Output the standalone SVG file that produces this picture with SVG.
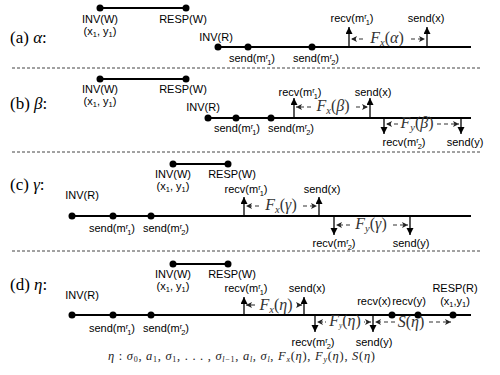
<svg xmlns="http://www.w3.org/2000/svg" width="500" height="375" viewBox="0 0 500 375">
<style>
.bg{fill:#fff}
.tl{stroke:#000;stroke-width:2;fill:none}
.dot{fill:#000}
.sep{stroke:#444;stroke-width:1;stroke-dasharray:3,2}
.ev{stroke:#000;stroke-width:1.3;fill:none}
.dim{stroke:#333;stroke-width:1.1;fill:none;stroke-dasharray:4,3}
.dimsolid{stroke:#333;stroke-width:1.1;fill:none}
.dimdot{stroke:#333;stroke-width:1;fill:none;stroke-dasharray:1,2}
.lbl{font-family:"Liberation Sans",Arial,sans-serif;font-size:11px;text-anchor:middle;fill:#000}
.sec{font-family:"Liberation Serif","Times New Roman",serif;font-size:17px;fill:#000}
.math{font-family:"Liberation Serif","Times New Roman",serif;font-size:16px;fill:#333;text-anchor:middle}
.it{font-style:italic}
.sm{font-size:7.5px}
.msub{font-size:10.5px}
</style>
<defs>
<marker id="evh" markerUnits="userSpaceOnUse" markerWidth="8" markerHeight="8" refX="7" refY="3.5" orient="auto">
<path d="M0,0 L7,3.5 L0,7 z" fill="#000"/>
</marker>
<marker id="dh" markerUnits="userSpaceOnUse" markerWidth="7" markerHeight="7" refX="6" refY="3" orient="auto">
<path d="M0,0 L6,3 L0,6 L1.5,3 z" fill="#222"/>
</marker>
</defs>
<rect class="bg" x="0" y="0" width="500" height="375"/>

<g id="separators">
<line class="sep" x1="12" y1="68" x2="482" y2="68"/>
<line class="sep" x1="12" y1="152" x2="482" y2="152"/>
<line class="sep" x1="12" y1="251" x2="482" y2="251"/>
</g>

<text class="sec" x="10" y="43">(a) <tspan class="it">α</tspan>:</text>
<text class="sec" x="10" y="109">(b) <tspan class="it">β</tspan>:</text>
<text class="sec" x="10" y="190">(c) <tspan class="it">γ</tspan>:</text>
<text class="sec" x="10" y="290" font-size="19">(d) <tspan class="it">η</tspan>:</text>

<!-- ===== (a) ===== -->
<g id="a-write">
<line class="tl" x1="100" y1="8" x2="186" y2="8"/>
<circle class="dot" cx="100" cy="8" r="3.5"/><circle class="dot" cx="186" cy="8" r="3.5"/>
<text class="lbl" x="100" y="23">INV(W)</text>
<text class="lbl" x="100" y="35">(x<tspan class="sm" dy="2">1</tspan><tspan dy="-2">, y</tspan><tspan class="sm" dy="2">1</tspan><tspan dy="-2">)</tspan></text>
<text class="lbl" x="183" y="23">RESP(W)</text>
</g>
<g id="a-read">
<line class="tl" x1="218" y1="47" x2="471" y2="47"/>
<circle class="dot" cx="218" cy="47" r="3.5"/>
<text class="lbl" x="216" y="41">INV(R)</text>
</g>
<g id="a-send1">
<circle class="dot" cx="248" cy="47" r="3.5"/>
<text class="lbl" x="252" y="62">send(m<tspan class="sm" dy="-3.5">r</tspan><tspan class="sm" dx="-1" dy="6">1</tspan><tspan dy="-2.5">)</tspan></text>
</g>
<g id="a-send2">
<circle class="dot" cx="312" cy="47" r="3.5"/>
<text class="lbl" x="316" y="62">send(m<tspan class="sm" dy="-3.5">r</tspan><tspan class="sm" dx="-1" dy="6">2</tspan><tspan dy="-2.5">)</tspan></text>
</g>
<g id="a-recv1">
<text class="lbl" x="352" y="22">recv(m<tspan class="sm" dy="-3.5">r</tspan><tspan class="sm" dx="-1" dy="6">1</tspan><tspan dy="-2.5">)</tspan></text>
</g>
<g id="a-sendx">
<text class="lbl" x="426" y="22">send(x)</text>
</g>
<text class="math" x="387" y="43"><tspan class="it">F</tspan><tspan class="it msub" dy="2.5">x</tspan><tspan dy="-2.5">(</tspan><tspan class="it">α</tspan>)</text>

<!-- ===== (b) ===== -->
<g id="b-write">
<line class="tl" x1="100" y1="79" x2="186" y2="79"/>
<circle class="dot" cx="100" cy="79" r="3.5"/><circle class="dot" cx="186" cy="79" r="3.5"/>
<text class="lbl" x="100" y="93">INV(W)</text>
<text class="lbl" x="100" y="105">(x<tspan class="sm" dy="2">1</tspan><tspan dy="-2">, y</tspan><tspan class="sm" dy="2">1</tspan><tspan dy="-2">)</tspan></text>
<text class="lbl" x="183" y="93">RESP(W)</text>
</g>
<g id="b-read">
<line class="tl" x1="208" y1="118" x2="471" y2="118"/>
<circle class="dot" cx="208" cy="118" r="3.5"/>
<text class="lbl" x="203" y="111">INV(R)</text>
</g>
<g id="b-send1">
<circle class="dot" cx="236" cy="118" r="3.5"/>
<text class="lbl" x="237" y="132">send(m<tspan class="sm" dy="-3.5">r</tspan><tspan class="sm" dx="-1" dy="6">1</tspan><tspan dy="-2.5">)</tspan></text>
</g>
<g id="b-send2">
<circle class="dot" cx="271" cy="118" r="3.5"/>
<text class="lbl" x="291" y="132">send(m<tspan class="sm" dy="-3.5">r</tspan><tspan class="sm" dx="-1" dy="6">2</tspan><tspan dy="-2.5">)</tspan></text>
</g>
<g id="b-recv1">
<text class="lbl" x="300" y="96">recv(m<tspan class="sm" dy="-3.5">r</tspan><tspan class="sm" dx="-1" dy="6">1</tspan><tspan dy="-2.5">)</tspan></text>
</g>
<g id="b-sendx">
<text class="lbl" x="373" y="96">send(x)</text>
</g>
<g id="b-recv2">
<text class="lbl" x="404" y="146">recv(m<tspan class="sm" dy="-3.5">r</tspan><tspan class="sm" dx="-1" dy="6">2</tspan><tspan dy="-2.5">)</tspan></text>
</g>
<g id="b-sendy">
<text class="lbl" x="465" y="146">send(y)</text>
</g>
<text class="math" x="333" y="111"><tspan class="it">F</tspan><tspan class="it msub" dy="2.5">x</tspan><tspan dy="-2.5">(</tspan><tspan class="it">β</tspan>)</text>
<text class="math" x="417" y="128"><tspan class="it">F</tspan><tspan class="it msub" dy="2.5">y</tspan><tspan dy="-2.5">(</tspan><tspan class="it">β</tspan>)</text>

<!-- ===== (c) ===== -->
<g id="c-write">
<line class="tl" x1="173" y1="164" x2="228" y2="164"/>
<circle class="dot" cx="173" cy="164" r="3.5"/><circle class="dot" cx="228" cy="164" r="3.5"/>
<text class="lbl" x="173" y="178">INV(W)</text>
<text class="lbl" x="173" y="190">(x<tspan class="sm" dy="2">1</tspan><tspan dy="-2">, y</tspan><tspan class="sm" dy="2">1</tspan><tspan dy="-2">)</tspan></text>
<text class="lbl" x="232" y="178">RESP(W)</text>
</g>
<g id="c-read">
<line class="tl" x1="72" y1="216" x2="471" y2="216"/>
<circle class="dot" cx="72" cy="216" r="3.5"/>
<text class="lbl" x="82" y="199">INV(R)</text>
</g>
<g id="c-send1">
<circle class="dot" cx="113" cy="216" r="3.5"/>
<text class="lbl" x="112" y="232">send(m<tspan class="sm" dy="-3.5">r</tspan><tspan class="sm" dx="-1" dy="6">1</tspan><tspan dy="-2.5">)</tspan></text>
</g>
<g id="c-send2">
<circle class="dot" cx="151" cy="216" r="3.5"/>
<text class="lbl" x="166" y="232">send(m<tspan class="sm" dy="-3.5">r</tspan><tspan class="sm" dx="-1" dy="6">2</tspan><tspan dy="-2.5">)</tspan></text>
</g>
<g id="c-recv1">
<text class="lbl" x="246" y="193">recv(m<tspan class="sm" dy="-3.5">r</tspan><tspan class="sm" dx="-1" dy="6">1</tspan><tspan dy="-2.5">)</tspan></text>
</g>
<g id="c-sendx">
<text class="lbl" x="322" y="193">send(x)</text>
</g>
<g id="c-recv2">
<text class="lbl" x="334" y="247">recv(m<tspan class="sm" dy="-3.5">r</tspan><tspan class="sm" dx="-1" dy="6">2</tspan><tspan dy="-2.5">)</tspan></text>
</g>
<g id="c-sendy">
<text class="lbl" x="411" y="247">send(y)</text>
</g>
<text class="math" x="281" y="210"><tspan class="it">F</tspan><tspan class="it msub" dy="2.5">x</tspan><tspan dy="-2.5">(</tspan><tspan class="it">γ</tspan>)</text>
<text class="math" x="371" y="229"><tspan class="it">F</tspan><tspan class="it msub" dy="2.5">y</tspan><tspan dy="-2.5">(</tspan><tspan class="it">γ</tspan>)</text>

<!-- ===== (d) ===== -->
<g id="d-write">
<line class="tl" x1="173" y1="264" x2="228" y2="264"/>
<circle class="dot" cx="173" cy="264" r="3.5"/><circle class="dot" cx="228" cy="264" r="3.5"/>
<text class="lbl" x="173" y="278">INV(W)</text>
<text class="lbl" x="173" y="290">(x<tspan class="sm" dy="2">1</tspan><tspan dy="-2">, y</tspan><tspan class="sm" dy="2">1</tspan><tspan dy="-2">)</tspan></text>
<text class="lbl" x="232" y="278">RESP(W)</text>
</g>
<g id="d-read">
<line class="tl" x1="72" y1="315" x2="471" y2="315"/>
<circle class="dot" cx="72" cy="315" r="3.5"/>
<text class="lbl" x="82" y="299">INV(R)</text>
</g>
<g id="d-send1">
<circle class="dot" cx="113" cy="315" r="3.5"/>
<text class="lbl" x="112" y="332">send(m<tspan class="sm" dy="-3.5">r</tspan><tspan class="sm" dx="-1" dy="6">1</tspan><tspan dy="-2.5">)</tspan></text>
</g>
<g id="d-send2">
<circle class="dot" cx="151" cy="315" r="3.5"/>
<text class="lbl" x="166" y="332">send(m<tspan class="sm" dy="-3.5">r</tspan><tspan class="sm" dx="-1" dy="6">2</tspan><tspan dy="-2.5">)</tspan></text>
</g>
<g id="d-recv1">
<text class="lbl" x="246" y="292">recv(m<tspan class="sm" dy="-3.5">r</tspan><tspan class="sm" dx="-1" dy="6">1</tspan><tspan dy="-2.5">)</tspan></text>
</g>
<g id="d-sendx">
<text class="lbl" x="307" y="292">send(x)</text>
</g>
<g id="d-recv2">
<text class="lbl" x="313" y="346">recv(m<tspan class="sm" dy="-3.5">r</tspan><tspan class="sm" dx="-1" dy="6">2</tspan><tspan dy="-2.5">)</tspan></text>
</g>
<g id="d-sendy">
<text class="lbl" x="374" y="346">send(y)</text>
</g>
<g id="d-recvx">
<circle class="dot" cx="392" cy="315" r="3.5"/>
<text class="lbl" x="374" y="305">recv(x)</text>
</g>
<g id="d-recvy">
<circle class="dot" cx="418" cy="315" r="3.5"/>
<text class="lbl" x="409" y="305">recv(y)</text>
</g>
<g id="d-respr">
<circle class="dot" cx="453" cy="315" r="3.5"/>
<text class="lbl" x="455" y="292">RESP(R)</text>
<text class="lbl" x="455" y="305">(x<tspan class="sm" dy="2">1</tspan><tspan dy="-2">,y</tspan><tspan class="sm" dy="2">1</tspan><tspan dy="-2">)</tspan></text>
</g>
<text class="math" x="276" y="310" font-size="17"><tspan class="it">F</tspan><tspan class="it msub" dy="2.5">x</tspan><tspan dy="-2.5">(</tspan><tspan class="it">η</tspan>)</text>
<text class="math" x="345" y="326" font-size="12.5"><tspan class="it">F</tspan><tspan class="it sm" dy="2">y</tspan><tspan dy="-2">(</tspan><tspan class="it">η</tspan>)</text>
<text class="math" x="411" y="327" font-size="17"><tspan class="it">S</tspan>(<tspan class="it">η</tspan>)</text>

<text x="108" y="360" textLength="267" lengthAdjust="spacing" font-family="'Liberation Serif','Times New Roman',serif" font-size="12.5" fill="#222"><tspan font-style="italic">η</tspan> : <tspan font-style="italic">σ</tspan><tspan font-size="8" dy="2">0</tspan><tspan dy="-2">, </tspan><tspan font-style="italic">a</tspan><tspan font-size="8" dy="2">1</tspan><tspan dy="-2">, </tspan><tspan font-style="italic">σ</tspan><tspan font-size="8" dy="2">1</tspan><tspan dy="-2">, . . . , </tspan><tspan font-style="italic">σ</tspan><tspan font-size="8" dy="2"><tspan font-style="italic">l</tspan>−1</tspan><tspan dy="-2">, </tspan><tspan font-style="italic">a</tspan><tspan font-size="8" font-style="italic" dy="2">l</tspan><tspan dy="-2">, </tspan><tspan font-style="italic">σ</tspan><tspan font-size="8" font-style="italic" dy="2">l</tspan><tspan dy="-2">, </tspan><tspan font-style="italic">F</tspan><tspan font-size="8" font-style="italic" dy="2">x</tspan><tspan dy="-2">(</tspan><tspan font-style="italic">η</tspan>), <tspan font-style="italic">F</tspan><tspan font-size="8" font-style="italic" dy="2">y</tspan><tspan dy="-2">(</tspan><tspan font-style="italic">η</tspan>), <tspan font-style="italic">S</tspan>(<tspan font-style="italic">η</tspan>)</text>

<g id="connectors">
<line class="ev" x1="349" y1="47" x2="349" y2="27" marker-end="url(#evh)"/>
<line class="ev" x1="427" y1="47" x2="427" y2="27" marker-end="url(#evh)"/>
<line class="dim" x1="363" y1="39" x2="351" y2="39" marker-end="url(#dh)"/>
<line class="dim" x1="411" y1="39" x2="425" y2="39" marker-end="url(#dh)"/>
<line class="ev" x1="294" y1="118" x2="294" y2="98" marker-end="url(#evh)"/>
<line class="ev" x1="370" y1="118" x2="370" y2="98" marker-end="url(#evh)"/>
<line class="ev" x1="384" y1="118" x2="384" y2="134" marker-end="url(#evh)"/>
<line class="ev" x1="461" y1="118" x2="461" y2="134" marker-end="url(#evh)"/>
<line class="dim" x1="311" y1="107" x2="296" y2="107" marker-end="url(#dh)"/>
<line class="dim" x1="356" y1="107" x2="368" y2="107" marker-end="url(#dh)"/>
<line class="dim" x1="398" y1="124" x2="386" y2="124" marker-end="url(#dh)"/>
<line class="dim" x1="437" y1="124" x2="459" y2="124" marker-end="url(#dh)"/>
<line class="ev" x1="244" y1="216" x2="244" y2="197" marker-end="url(#evh)"/>
<line class="ev" x1="319" y1="216" x2="319" y2="197" marker-end="url(#evh)"/>
<line class="ev" x1="334" y1="216" x2="334" y2="235" marker-end="url(#evh)"/>
<line class="ev" x1="410" y1="216" x2="410" y2="235" marker-end="url(#evh)"/>
<line class="dim" x1="259" y1="206" x2="246" y2="206" marker-end="url(#dh)"/>
<line class="dim" x1="303" y1="206" x2="317" y2="206" marker-end="url(#dh)"/>
<line class="dim" x1="350" y1="225" x2="336" y2="225" marker-end="url(#dh)"/>
<line class="dim" x1="393" y1="225" x2="408" y2="225" marker-end="url(#dh)"/>
<line class="ev" x1="244" y1="315" x2="244" y2="297" marker-end="url(#evh)"/>
<line class="ev" x1="304" y1="315" x2="304" y2="297" marker-end="url(#evh)"/>
<line class="ev" x1="315" y1="315" x2="315" y2="332" marker-end="url(#evh)"/>
<line class="ev" x1="373" y1="315" x2="373" y2="332" marker-end="url(#evh)"/>
<line class="dimsolid" x1="255" y1="305" x2="246" y2="305" marker-end="url(#dh)"/>
<line class="dimsolid" x1="297" y1="305" x2="302" y2="305" marker-end="url(#dh)"/>
<line class="dimdot" x1="326" y1="322" x2="317" y2="322" marker-end="url(#dh)"/>
<line class="dimdot" x1="364" y1="322" x2="371" y2="322" marker-end="url(#dh)"/>
<line class="dim" x1="395" y1="322" x2="375" y2="322" marker-end="url(#dh)"/>
<line class="dim" x1="429" y1="322" x2="451" y2="322" marker-end="url(#dh)"/>
</g>
</svg>
